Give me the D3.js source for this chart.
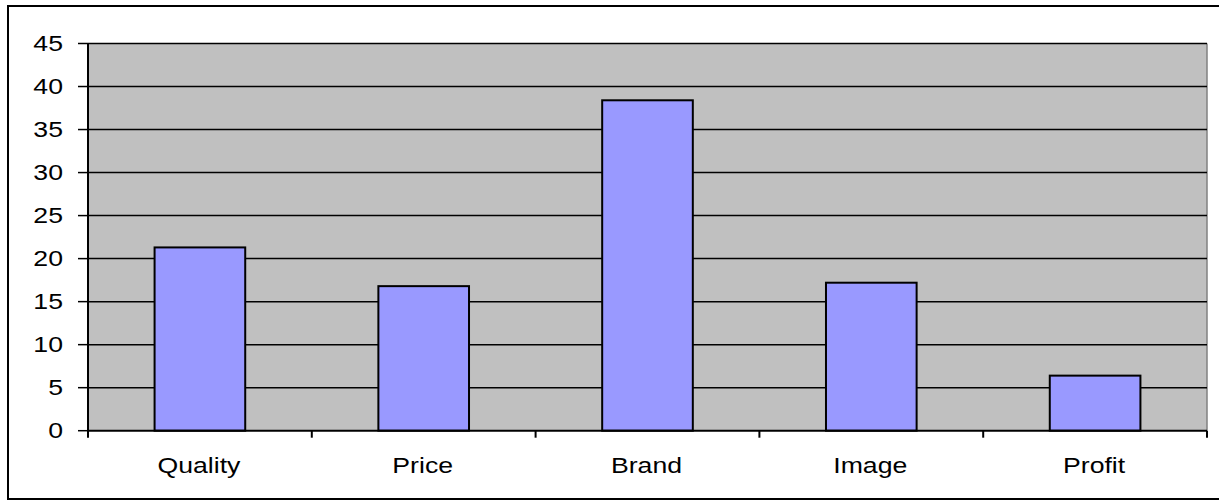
<!DOCTYPE html>
<html><head><meta charset="utf-8">
<script src="https://cdn.jsdelivr.net/npm/d3@7"></script>
<style>body{margin:0;background:#fff}svg{display:block}text{font-family:"Liberation Sans",Arial,sans-serif;fill:#000}</style>
</head><body><svg id="c" width="1219" height="502"></svg>
<script>
const categories = ["Quality","Price","Brand","Image","Profit"];
const values = [21.3, 16.8, 38.4, 17.2, 6.4];
const yTicks = [0,5,10,15,20,25,30,35,40,45];

const svg = d3.select("#c");
const L=88, R=1207, T=43.5, B=430.7;
const sx = 1.24;

svg.append("rect").attr("x",8).attr("y",6).attr("width",1220).attr("height",493)
  .attr("fill","#fff").attr("stroke","#000").attr("stroke-width",2);

const x = d3.scaleBand().domain(categories).range([L,R]).paddingInner(0.595).paddingOuter(0.2975);
const xb = d3.scaleBand().domain(categories).range([L,R]);
const y = d3.scaleLinear().domain([0,45]).range([B,T]);

svg.append("rect").attr("x",L).attr("y",T).attr("width",R-L).attr("height",B-T).attr("fill","#c0c0c0");
svg.append("line").attr("x1",R).attr("x2",R).attr("y1",T).attr("y2",B).attr("stroke","#808080").attr("stroke-width",1.5);

svg.append("g").selectAll("line").data(yTicks.filter(d=>d>0)).join("line")
  .attr("x1",L).attr("x2",R).attr("y1",d=>y(d)).attr("y2",d=>y(d))
  .attr("stroke","#000").attr("stroke-width",1.5);

svg.append("g").selectAll("rect").data(values).join("rect")
  .attr("x",(d,i)=>x(categories[i])).attr("width",x.bandwidth())
  .attr("y",d=>y(d)).attr("height",d=>B-y(d))
  .attr("fill","#9999ff").attr("stroke","#000").attr("stroke-width",2);

// axes
svg.append("line").attr("x1",L).attr("x2",L).attr("y1",T).attr("y2",B+6).attr("stroke","#000").attr("stroke-width",2);
svg.append("line").attr("x1",L).attr("x2",R).attr("y1",B).attr("y2",B).attr("stroke","#000").attr("stroke-width",2);
svg.append("g").selectAll("line").data(yTicks).join("line")
  .attr("x1",L-10).attr("x2",L).attr("y1",d=>y(d)).attr("y2",d=>y(d)).attr("stroke","#000").attr("stroke-width",1.5);
const xt = categories.map(c=>xb(c)).concat([R]);
svg.append("g").selectAll("line").data(xt).join("line")
  .attr("x1",d=>d).attr("x2",d=>d).attr("y1",B).attr("y2",B+7).attr("stroke","#000").attr("stroke-width",2);

svg.append("g").selectAll("text").data(yTicks).join("text")
  .attr("transform",d=>`translate(63,${y(d)}) scale(${sx},1)`)
  .attr("text-anchor","end").attr("dy","0.36em").attr("font-size",21.5).text(d=>d);

svg.append("g").selectAll("text").data(categories).join("text")
  .attr("transform",d=>`translate(${xb(d)+xb.bandwidth()/2-1},472.5) scale(${sx},1)`)
  .attr("text-anchor","middle").attr("font-size",21.5).text(d=>d);
</script></body></html>
